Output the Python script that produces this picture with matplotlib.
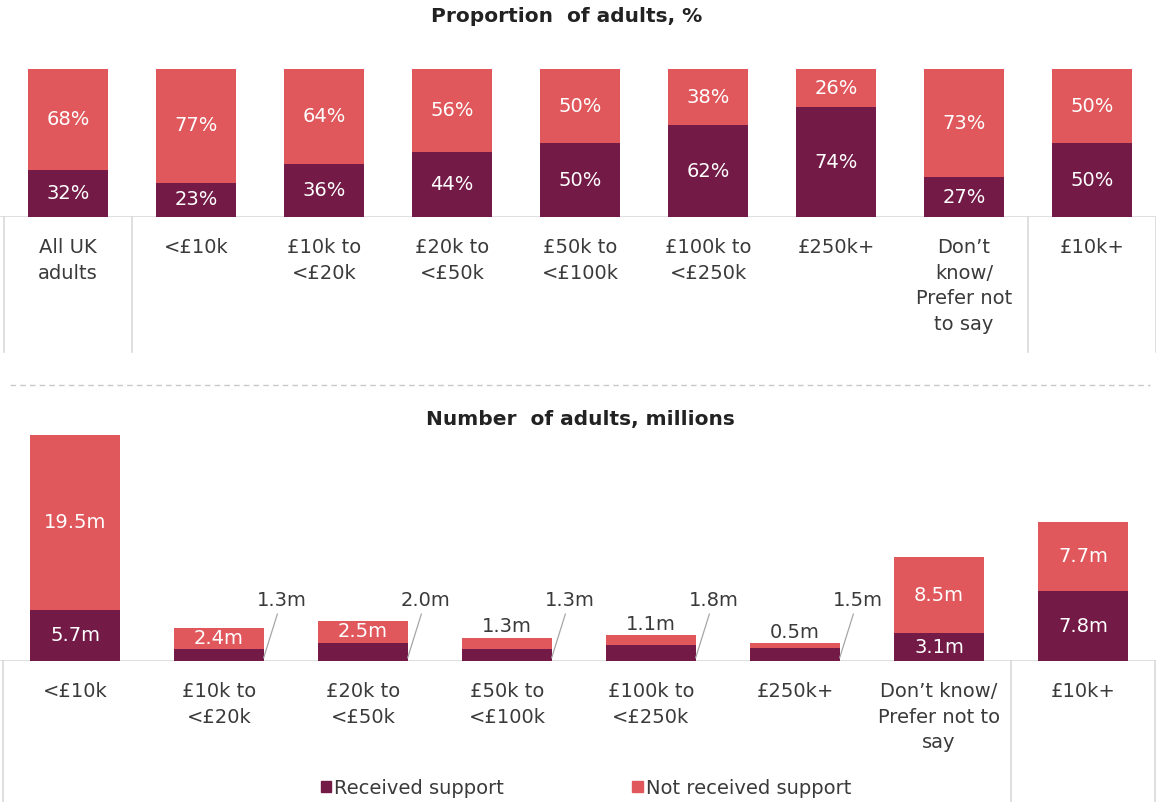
import numpy as np
import matplotlib
matplotlib.use("Agg")
import matplotlib.pyplot as plt
from matplotlib.patches import Patch
from matplotlib.lines import Line2D

# Proportion of adults by income band, %
pct_labels = ["All UK\nadults", "<£10k", "£10k to\n<£20k", "£20k to\n<£50k",
              "£50k to\n<£100k", "£100k to\n<£250k", "£250k+",
              "Don\u2019t\nknow/\nPrefer not\nto say", "£10k+"]
pct_received = [32, 23, 36, 44, 50, 62, 74, 27, 50]
pct_not_received = [68, 77, 64, 56, 50, 38, 26, 73, 50]

# Number of adults by income band, millions
num_labels = ["<£10k", "£10k to\n<£20k", "£20k to\n<£50k", "£50k to\n<£100k",
              "£100k to\n<£250k", "£250k+", "Don\u2019t know/\nPrefer not to\nsay",
              "£10k+"]
num_received = [5.7, 1.3, 2.0, 1.3, 1.8, 1.5, 3.1, 7.8]
num_not_received = [19.5, 2.4, 2.5, 1.3, 1.1, 0.5, 8.5, 7.7]

DARK = "#731a46"
RED = "#e0575c"
GRID = "#d9d9d9"
TEXT = "#3a3a3a"
FS = 14
W, H = 1156, 802

plt.rcParams["font.family"] = ["DejaVu Sans"]

fig = plt.figure(figsize=(W / 100, H / 100), dpi=100)


def px_axes(top, bottom):
    return fig.add_axes([0, 1 - bottom / H, 1, (bottom - top) / H])


def style(ax, labels):
    for s in ax.spines.values():
        s.set_visible(False)
    ax.set_yticks([])
    ax.set_xticks(range(len(labels)))
    ax.set_xticklabels(labels, fontsize=FS, color=TEXT, linespacing=1.45)
    ax.tick_params(axis="x", length=0, pad=15)
    ax.axhline(0, color=GRID, lw=1.2, zorder=0)


# ---- top panel: proportions ----
ax1 = px_axes(69, 217)
x1 = np.arange(len(pct_labels))
ax1.bar(x1, pct_received, 0.625, color=DARK)
ax1.bar(x1, pct_not_received, 0.625, bottom=pct_received, color=RED)
ax1.set_xlim(-68 / 128, (W - 68) / 128)
ax1.set_ylim(0, 100)
style(ax1, pct_labels)
for i in x1:
    ax1.text(i, pct_received[i] / 2, "%d%%" % pct_received[i], ha="center",
             va="center", color="white", fontsize=FS)
    ax1.text(i, pct_received[i] + pct_not_received[i] / 2,
             "%d%%" % pct_not_received[i], ha="center", va="center",
             color="white", fontsize=FS)
for xs in [-0.5, 0.5, 7.5, 8.5]:
    ax1.axvline(xs, ymin=-135 / 148, ymax=0, color=GRID, lw=1.2, clip_on=False)

fig.text(567 / W, 1 - 16 / H, "Proportion  of adults, %", ha="center",
         va="center", fontsize=14.5, fontweight="bold", color="#222222")

# dashed divider between the two panels
fig.add_artist(Line2D([10 / W, 1150 / W], [1 - 385 / H] * 2, color="#c8c8c8",
                      lw=1, linestyle=(0, (4, 3)), transform=fig.transFigure))

fig.text(580 / W, 1 - 420 / H, "Number  of adults, millions", ha="center",
         va="center", fontsize=14.5, fontweight="bold", color="#222222")

# ---- bottom panel: numbers ----
ax2 = px_axes(435, 661)
x2 = np.arange(len(num_labels))
bw = 0.62
ax2.bar(x2, num_received, bw, color=DARK)
ax2.bar(x2, num_not_received, bw, bottom=num_received, color=RED)
ax2.set_xlim(-75 / 144, (W - 75) / 144)
ax2.set_ylim(0, 25.2)
style(ax2, num_labels)
for i in x2:
    r, n = num_received[i], num_not_received[i]
    if r >= 2.5:
        ax2.text(i, r / 2, "%.1fm" % r, ha="center", va="center",
                 color="white", fontsize=FS)
    else:
        ax2.annotate("%.1fm" % r, xy=(i + bw / 2, 0.35), xytext=(18, 48),
                     textcoords="offset pixels", ha="center", va="bottom",
                     fontsize=FS, color=TEXT,
                     arrowprops=dict(arrowstyle="-", color="#a6a6a6", lw=0.9,
                                     shrinkA=1, shrinkB=0))
    if n >= 2:
        ax2.text(i, r + n / 2, "%.1fm" % n, ha="center", va="center",
                 color="white", fontsize=FS)
    else:
        ax2.annotate("%.1fm" % n, xy=(i, r + n), xytext=(0, 1),
                     textcoords="offset points", ha="center", va="bottom",
                     fontsize=FS, color=TEXT)
for xs in [-0.5, 6.5, 7.5]:
    ax2.axvline(xs, ymin=-141 / 226, ymax=0, color=GRID, lw=1.2, clip_on=False)

handles = [Patch(color=DARK, label="Received support"),
           Patch(color=RED, label="Not received support")]
fig.legend(handles=handles, loc="center", bbox_to_anchor=(586 / W, 1 - 788 / H),
           ncol=2, frameon=False, fontsize=FS, handlelength=0.55,
           handleheight=0.55, handletextpad=0.15, columnspacing=6.6,
           labelcolor=TEXT)

fig.savefig("out.png", dpi=100)
